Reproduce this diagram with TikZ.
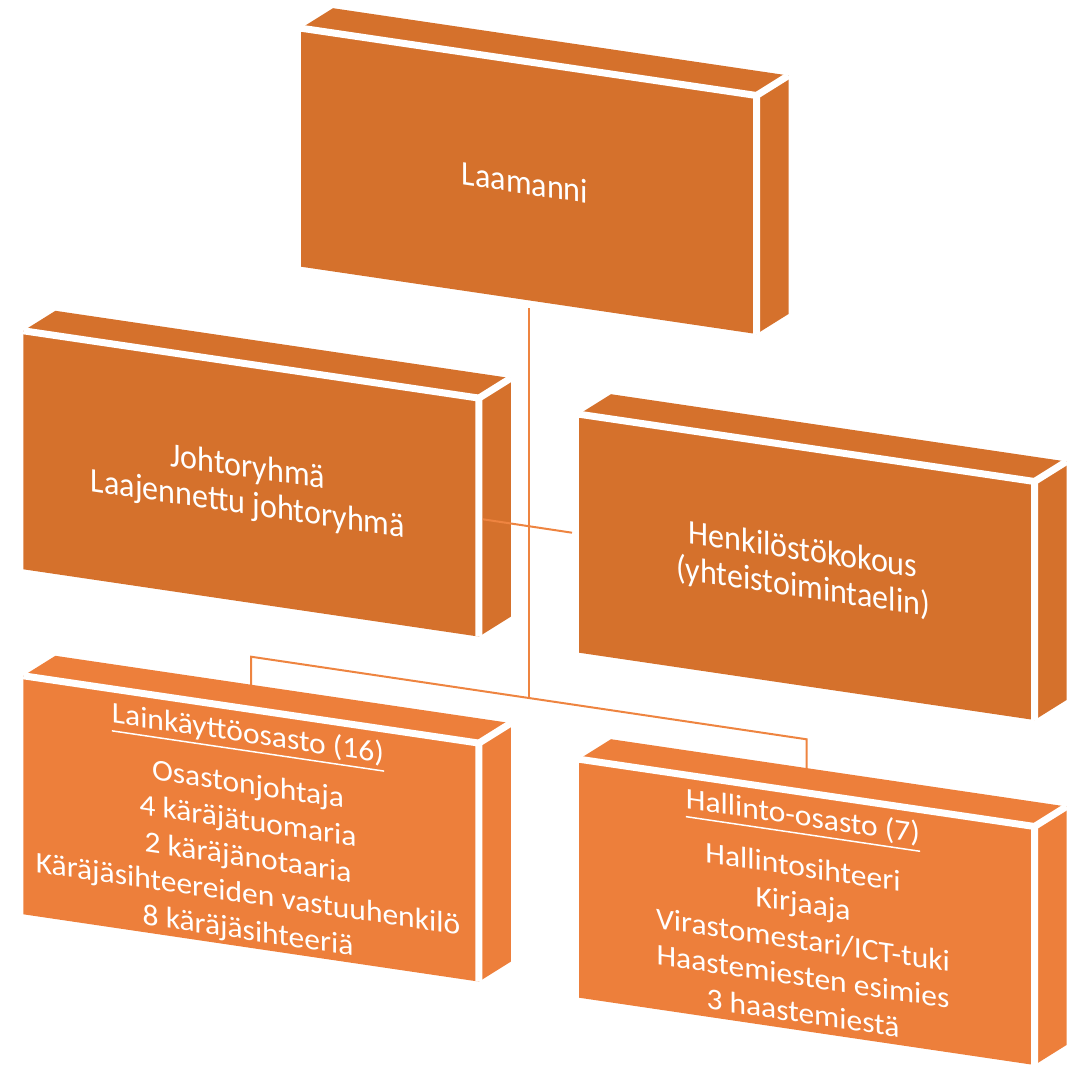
\documentclass[tikz,border=0pt]{standalone}
\usepackage{fontspec}
\setmainfont{Carlito}
\definecolor{boxdark}{HTML}{D5712C}
\definecolor{boxlight}{HTML}{ED7F3B}
\definecolor{linkcol}{HTML}{EE8440}
\newcommand\tst{\rule{0pt}{0.8em}}
\newcommand\bst{\rule[-0.3em]{0pt}{0.3em}}
\newcommand\myul[1]{\setbox0\hbox{#1}\leavevmode\rlap{\rule[-0.29em]{\wd0}{1.5pt}}\box0}
% box drawn from its geometric top-left corner (#1,#2) in image pixels, colour #3
\newcommand\orgbox[3]{%
 \begin{scope}[shift={(#1,#2)}]
  \fill[#3] (0,0) -- (455.5,67.3) -- (455.5,305.8) -- (0,238.5) -- cycle;
  \fill[#3] (0,0) -- (455.5,67.3) -- (487.5,47.3) -- (32,-20) -- cycle;
  \fill[#3] (455.5,67.3) -- (455.5,305.8) -- (487.5,285.8) -- (487.5,47.3) -- cycle;
  \draw[gapline] (0,0) -- (455.5,67.3) -- (455.5,305.8);
  \draw[gapline] (455.5,67.3) -- (487.5,47.3);
 \end{scope}}
\begin{document}
\begin{tikzpicture}[x=1pt,y=-1pt,
  gapline/.style={white,line width=7pt,line join=round},
  link/.style={linkcol,line width=2pt},
  txt/.style={text=white,align=center,inner sep=0pt,yslant=-0.148},
  toptxt/.style={txt,xscale=0.93,font=\fontsize{34.5}{37}\selectfont},
  bottxt/.style={txt,xscale=1.05,font=\fontsize{30}{36.5}\selectfont}]
\useasboundingbox (0,0) rectangle (1084,1065);
% connector end points
\coordinate (lamBot) at (529,308);
\coordinate (junc) at (529,698.2);
\coordinate (lkTop) at (251,686);
\coordinate (lkBend) at (251,656.7);
\coordinate (haBend) at (806.7,739.3);
\coordinate (haTop) at (806.7,770);
\coordinate (joRight) at (483,519.3);
\coordinate (heLeft) at (572,532.7);
% bracket to the two departments (under the boxes)
\draw[link] (lkTop) -- (lkBend) -- (haBend) -- (haTop);
% boxes
\orgbox{301}{28.2}{boxdark}
\orgbox{23.4}{330.8}{boxdark}
\orgbox{579}{414.2}{boxdark}
\orgbox{23.4}{675.8}{boxlight}
\orgbox{579}{759.2}{boxlight}
% connectors over the boxes
\draw[link] (lamBot) -- (junc);
\draw[link] (joRight) -- (heLeft);
% texts
\node[toptxt] (laamanni) at (525,185.4) {\tst Laamanni\bst};
\node[toptxt] (johto) at (248,487.4) {\tst Johtoryhmä\\Laajennettu johtoryhmä\bst};
\node[toptxt] (henk) at (803,570.4) {\tst Henkilöstökokous\\(yhteistoimintaelin)\bst};
\node[bottxt] (laink) at (248,834) {\tst\myul{Lainkäyttöosasto (16)}\\[14.5pt]
  Osastonjohtaja\\4 käräjätuomaria\\2 käräjänotaaria\\Käräjäsihteereiden vastuuhenkilö\\8 käräjäsihteeriä\bst};
\node[bottxt] (hallinto) at (803,917) {\tst\myul{Hallinto-osasto (7)}\\[14.5pt]
  Hallintosihteeri\\Kirjaaja\\Virastomestari/ICT-tuki\\Haastemiesten esimies\\3 haastemiestä\bst};
\end{tikzpicture}
\end{document}
